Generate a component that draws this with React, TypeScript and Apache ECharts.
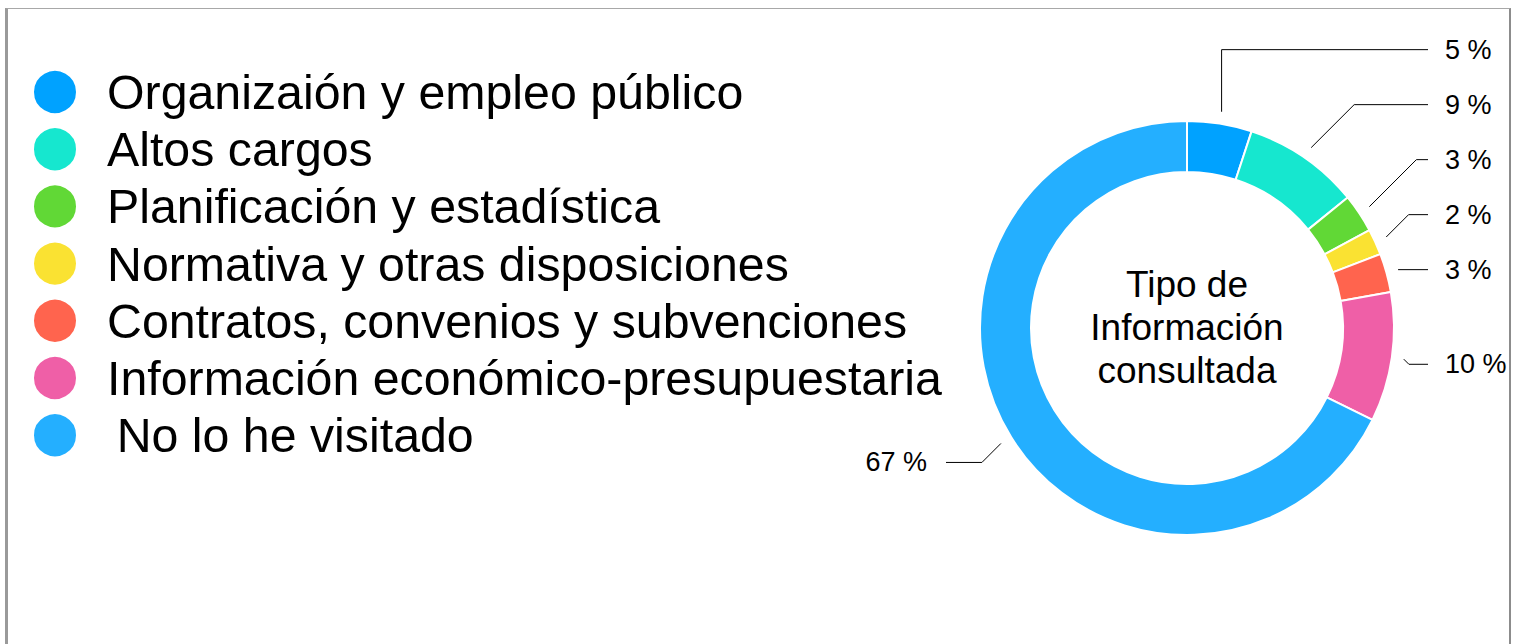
import React, { useEffect, useRef } from "react";
import * as echarts from "echarts";

const categories = [
  "Organizaión y empleo público",
  "Altos cargos",
  "Planificación y estadística",
  "Normativa y otras disposiciones",
  "Contratos, convenios y subvenciones",
  "Información económico-presupuestaria",
  "No lo he visitado",
];
const values = [5, 9, 3, 2, 3, 10, 67];
const colors = ["#00A2FF", "#16E7CF", "#61D836", "#FAE232", "#FF644E", "#EF5FA7", "#24AFFF"];
const centerTitle = "Tipo de\nInformación\nconsultada";

const FONT = "'Liberation Sans', Arial, Helvetica, sans-serif";
const CX = 1187;
const CY = 328;
const R_IN = 156;
const R_OUT = 207;
const R_LABEL = 219;
const LINE_REACH = 241;
const LABEL_GAP = 55;

// Label placement computed from the data (angles of each slice)
function computeLabelPlacement() {
  const total = values.reduce((a, b) => a + b, 0);
  let cum = 0;
  const items = values.map((v, i) => {
    const theta = ((cum + v / 2) / total) * Math.PI * 2;
    cum += v;
    const s = Math.sin(theta);
    const c = Math.cos(theta);
    const sx = CX + R_LABEL * s;
    const sy = CY - R_LABEL * c;
    const natY = CY - (c < 0 ? 255 : R_LABEL) * c;
    return { i, theta, s, c, sx, sy, natY, right: s >= 0, ty: natY };
  });
  const right = items.filter((it) => it.right).sort((a, b) => b.natY - a.natY);
  let prev = Infinity;
  right.forEach((it) => {
    it.ty = Math.min(it.natY, prev - LABEL_GAP);
    prev = it.ty;
  });
  const left = items.filter((it) => !it.right).sort((a, b) => b.natY - a.natY);
  prev = Infinity;
  left.forEach((it) => {
    it.ty = Math.min(it.natY, prev - LABEL_GAP);
    prev = it.ty;
  });
  return items.map((it) => {
    const dir = it.right ? 1 : -1;
    const endX = CX + dir * LINE_REACH;
    const dy = it.ty - it.sy;
    let elbow: number[];
    if (Math.abs(it.s) < 0.26) elbow = [it.sx, it.ty];
    else elbow = [it.sx + dir * Math.abs(dy), it.ty];
    return {
      x: it.right ? endX + 17 : endX - 19,
      y: it.ty,
      align: it.right ? "left" : "right",
      points: [[it.sx, it.sy], elbow, [endX, it.ty]],
    };
  });
}

export default function App() {
  const ref = useRef<HTMLDivElement>(null);
  useEffect(() => {
    if (!ref.current) return;
    const chart = echarts.init(ref.current, undefined, { renderer: "svg" });
    const placement = computeLabelPlacement();
    const data = categories.map((name, i) => ({
      name,
      value: values[i],
      itemStyle: { color: colors[i] },
    }));
    const ghost = categories.map((name, i) => ({ name, value: values[i] }));
    chart.setOption({
      animation: false,
      backgroundColor: "transparent",
      title: {
        text: centerTitle,
        left: CX,
        top: 263,
        textAlign: "center",
        padding: 0,
        textStyle: { fontSize: 37, lineHeight: 43, fontWeight: "normal", color: "#000", fontFamily: FONT },
      },
      legend: {
        orient: "vertical",
        left: 32,
        top: 68,
        padding: 0,
        itemWidth: 44,
        itemHeight: 44,
        itemGap: 9.2,
        icon: "circle",
        selectedMode: false,
        data: categories,
        formatter: (name: string) => (name === "No lo he visitado" ? "\u2009" + name : name),
        textStyle: { fontSize: 48.3, lineHeight: 48, color: "#000", fontFamily: FONT, padding: [0, 0, 0, 25] },
      },
      series: [
        {
          type: "pie",
          center: [CX, CY],
          radius: [R_IN, R_OUT],
          startAngle: 90,
          clockwise: true,
          label: { show: false },
          labelLine: { show: false },
          emphasis: { disabled: true },
          itemStyle: { borderColor: "#fff", borderWidth: 2 },
          data,
        },
        {
          type: "pie",
          center: [CX, CY],
          radius: [R_LABEL - 2, R_LABEL],
          startAngle: 90,
          clockwise: true,
          silent: true,
          legendHoverLink: false,
          emphasis: { disabled: true },
          itemStyle: { color: "rgba(0,0,0,0)", borderWidth: 0 },
          label: {
            show: true,
            position: "outside",
            formatter: "{c} %",
            fontSize: 27,
            color: "#000",
            fontFamily: FONT,
            overflow: "none",
            bleedMargin: 0,
          },
          labelLine: { show: true, length: 15, length2: 10, lineStyle: { color: "#000", width: 1 } },
          labelLayout: (params: any) => {
            const p = placement[params.dataIndex];
            return {
              x: p.x,
              y: p.y,
              align: p.align,
              verticalAlign: "middle",
              labelLinePoints: p.points,
            };
          },
          data: ghost,
        },
      ],
    });
    return () => chart.dispose();
  }, []);
  return (
    <div style={{ position: "fixed", left: 0, top: 0, width: 1517, height: 644, background: "#fff" }}>
      <div
        style={{
          position: "absolute",
          left: 5,
          top: 8,
          width: 1506,
          height: 700,
          boxSizing: "border-box",
          borderLeft: "3px solid #9a9a9a",
          borderTop: "1px solid #a8a8a8",
          borderRight: "2px solid #8c8c8c",
        }}
      />
      <div ref={ref} style={{ position: "absolute", left: 0, top: 0, width: 1517, height: 644 }} />
    </div>
  );
}
